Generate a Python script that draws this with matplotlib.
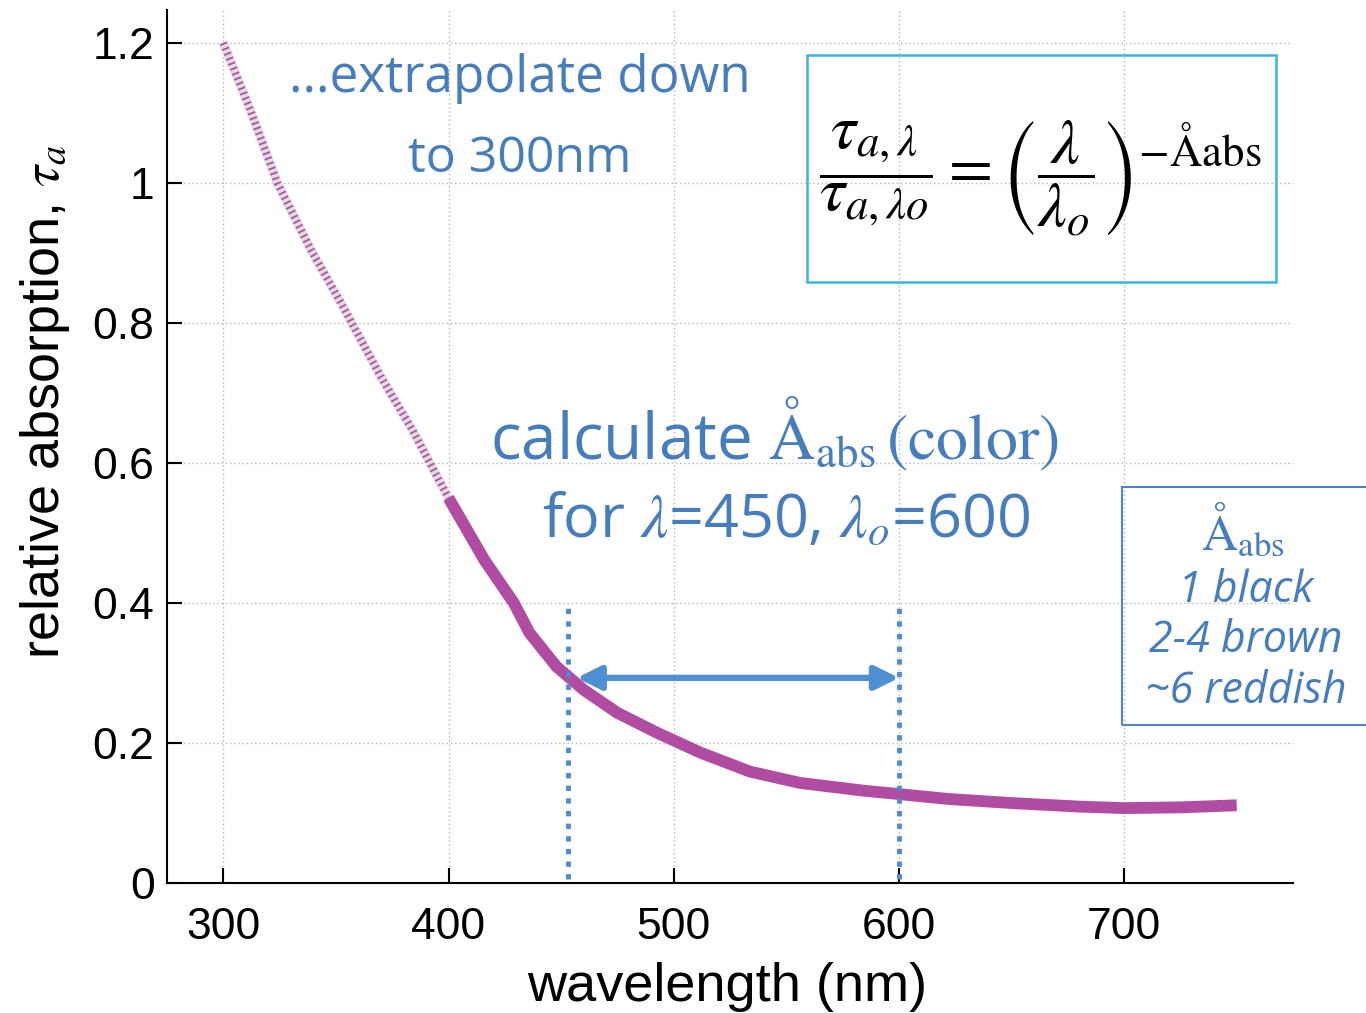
import matplotlib.pyplot as plt
from matplotlib.patches import Rectangle
from matplotlib.ticker import FuncFormatter

plt.rcParams['mathtext.fontset'] = 'stix'

# measured curve (solid part, 400-750 nm)
wl_meas = [400, 416, 429, 436, 448, 460, 475, 493, 512, 534, 556, 584, 600, 622, 651, 681, 700, 725, 750]
tau_meas = [0.55, 0.461, 0.40, 0.357, 0.309, 0.276, 0.243, 0.214, 0.186, 0.159, 0.143, 0.132, 0.127,
            0.12, 0.114, 0.109, 0.107, 0.108, 0.111]

# extrapolated part down to 300 nm
wl_extra = [300, 312, 324, 339, 352, 370, 384, 400]
tau_extra = [1.2, 1.104, 1.0, 0.904, 0.83, 0.723, 0.647, 0.55]

# marker lines as drawn (lambda=450, lambda_o=600)
marker_x = [453, 600]
marker_top = 0.393
arrow_y = 0.293
arrow_left = 457
arrow_right = 600

x_ticks = [300, 400, 500, 600, 700]
y_ticks = [0, 0.2, 0.4, 0.6, 0.8, 1.0, 1.2]

curve_col = '#b04da3'
blue = '#467dbe'

W, H = 1366, 1013


def fx(px):
    return px / W


def fy(py):
    return 1 - py / H


fig = plt.figure(figsize=(13.66, 10.13), dpi=100)
ax = fig.add_axes([fx(167), fy(883), fx(1293) - fx(167), fy(10) - fy(883)])

# extrapolation: pale band with dense hatch-like dashes
ax.plot(wl_extra, tau_extra, color='#ecd6e8', lw=6.5, solid_capstyle='butt', zorder=3)
ax.plot(wl_extra, tau_extra, color='#a0609a', lw=5.5, linestyle=(0, (0.25, 0.45)),
        dash_capstyle='butt', zorder=4)
ax.plot(wl_meas, tau_meas, color=curve_col, lw=8.5, solid_capstyle='butt',
        solid_joinstyle='round', zorder=5)

# lambda / lambda_o markers
ax.vlines(marker_x, 0.005, marker_top, colors='#4b8cd2', lw=3.5,
          linestyles=[(0, (1.1, 1.5))], zorder=6)
ax.annotate('', xy=(arrow_right, arrow_y), xytext=(arrow_left, arrow_y),
            arrowprops=dict(arrowstyle='<|-|>', color='#4f8fd4', lw=4.5,
                            mutation_scale=36, shrinkA=0, shrinkB=0), zorder=7)

ax.set_xlim(275, 775)
ax.set_ylim(0, 1.247)
ax.set_xticks(x_ticks)
ax.set_yticks(y_ticks)
ax.yaxis.set_major_formatter(FuncFormatter(lambda v, p: '%g' % v))
ax.tick_params(direction='in', length=11, width=1.5, labelsize=32)
ax.tick_params(axis='x', pad=17)
ax.tick_params(axis='y', pad=9)
for lab in ax.get_xticklabels() + ax.get_yticklabels():
    lab.set_family('Liberation Sans')
ax.spines['top'].set_visible(False)
ax.spines['right'].set_visible(False)
ax.spines['left'].set_linewidth(1.5)
ax.spines['bottom'].set_linewidth(1.5)
ax.grid(True, linestyle=(0, (1, 2)), color='#b5b5b5', lw=1)
ax.set_axisbelow(True)

fig.text(fx(727), fy(987), 'wavelength (nm)', fontsize=39, family='Liberation Sans',
         ha='center', va='center')
fig.text(fx(45), fy(402), r'relative absorption, $\tau_a$', fontsize=39,
         family='Liberation Sans', rotation=90, ha='center', va='center')

# blue annotations
fig.text(fx(520), fy(92), '...extrapolate down', fontsize=37, family='Open Sans',
         color=blue, ha='center', va='baseline')
fig.text(fx(520), fy(172), 'to 300nm', fontsize=36, family='Open Sans',
         color=blue, ha='center', va='baseline')
fig.text(fx(774), fy(459), r'calculate $\mathrm{Å}_{\mathrm{abs}}\,\mathrm{(color)}$',
         fontsize=46, family='Open Sans', color=blue, ha='center', va='baseline')
fig.text(fx(786), fy(537), r'for $\lambda$=450, $\lambda_o$=600', fontsize=44,
         family='Open Sans', color=blue, ha='center', va='baseline')

# formula box
fig.add_artist(Rectangle((fx(807), fy(282)), fx(1276) - fx(807), fy(55) - fy(282),
                         transform=fig.transFigure, fill=False, ec='#3cb4e6', lw=1.8))
fig.text(fx(1040), fy(178),
         r'$\dfrac{\tau_{a,\lambda}}{\tau_{a,\lambda o}} = '
         r'\left(\dfrac{\lambda}{\lambda_o}\right)^{-\mathrm{Åabs}}$',
         fontsize=46, ha='center', va='center')

# colour legend box
fig.add_artist(Rectangle((fx(1122), fy(725)), 0.25, fy(487) - fy(725),
                         transform=fig.transFigure, fill=False, ec='#4b87c8', lw=1.5))
fig.text(fx(1243), fy(549), r'$\mathrm{Å}_{\mathrm{abs}}$', fontsize=36, color=blue,
         ha='center', va='baseline')
for txt, yb in [('1 black', 602), ('2-4 brown', 652), ('~6 reddish', 703)]:
    fig.text(fx(1246), fy(yb), txt, fontsize=31, family='Open Sans', style='italic',
             color=blue, ha='center', va='baseline')

fig.savefig('out.png', dpi=100)
